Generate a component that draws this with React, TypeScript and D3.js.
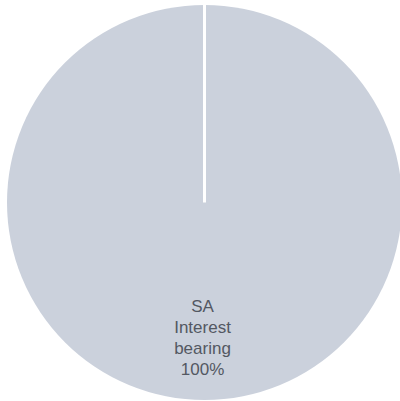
import React, { useRef, useEffect } from "react";
import * as d3 from "d3";

const categories = ["SA Interest bearing"];
const values = [100];
const labelLines = [["SA", "Interest", "bearing", "100%"]];

const App = () => {
  const ref = useRef<SVGSVGElement | null>(null);

  useEffect(() => {
    const svg = d3.select(ref.current);
    svg.selectAll("*").remove();

    const cx = 204.5;
    const cy = 202.5;
    const r = 197.5;

    const pie = d3.pie<number>().sort(null).value((d) => d);
    const arcs = pie(values);
    const arc = d3.arc<d3.PieArcDatum<number>>().innerRadius(0).outerRadius(r);

    const g = svg.append("g").attr("transform", `translate(${cx},${cy})`);

    g.selectAll("path.slice")
      .data(arcs)
      .enter()
      .append("path")
      .attr("class", "slice")
      .attr("fill", "#cbd1dc")
      .attr("d", arc);

    // slice borders (white radius at each start angle)
    g.selectAll("line.border")
      .data(arcs)
      .enter()
      .append("line")
      .attr("class", "border")
      .attr("stroke", "#ffffff")
      .attr("stroke-width", 3)
      .attr("x1", 0)
      .attr("y1", 0)
      .attr("x2", (d) => Math.sin(d.startAngle) * r)
      .attr("y2", (d) => -Math.cos(d.startAngle) * r - 2);

    // label
    const lineH = 21;
    g.selectAll("text.label")
      .data(arcs)
      .enter()
      .append("text")
      .attr("class", "label")
      .attr("text-anchor", "middle")
      .attr("font-family", "Liberation Sans, Arial, sans-serif")
      .attr("font-size", 17)
      .attr("fill", "#535862")
      .attr("transform", () => `translate(-2, 109.5)`)
      .each(function (d, i) {
        const t = d3.select(this);
        labelLines[i].forEach((line, j) => {
          t.append("tspan").attr("x", 0).attr("y", j * lineH).text(line);
        });
      })
      .append("title")
      .text((d, i) => categories[i]);
  }, []);

  return (
    <svg
      ref={ref}
      width={400}
      height={401}
      style={{ position: "absolute", left: 0, top: 0 }}
    />
  );
};

export default App;
